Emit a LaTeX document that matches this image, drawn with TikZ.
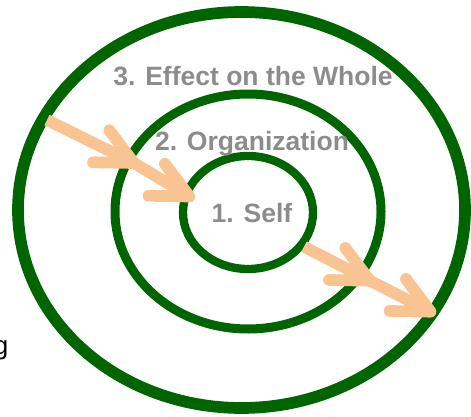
\documentclass[tikz,border=0pt]{standalone}
\usepackage{fontspec}
\setmainfont{Liberation Sans}
\usepackage{tikz}

\definecolor{vert}{HTML}{006400}
\definecolor{peche}{RGB}{250,196,146}
\definecolor{gris}{HTML}{8C8C8C}

\begin{document}
\begin{tikzpicture}[x=1pt,y=-1pt,
    anneau/.style={draw=vert},
    fleche/.style={draw=peche,line width=11.7pt,line cap=round,line join=round},
    tige/.style={draw=peche,line width=11.7pt,line cap=butt,line join=round},
    titre/.style={text=gris,font=\fontsize{26.5}{30}\selectfont\bfseries,inner sep=0pt,anchor=base}]
  \useasboundingbox (0,0) rectangle (471,417);

      \coordinate (C3) at (241.5,210);
      \coordinate (C2) at (248,211.5);
      \coordinate (C1) at (248,212.5);

      % FLECHE GAUCHE
      \coordinate (A1) at (47,120);
      \coordinate (A2) at (134,163);
      \coordinate (A3) at (189.5,196.5);

      % FLECHE DROITE
      \coordinate (B1) at (304,246.7);
      \coordinate (B2) at (370,280.7);
      \coordinate (B3) at (430.6,311.7);

      % ANNEAUX
      \draw[anneau,line width=11.7pt] (C3) ellipse (223.5 and 198);
      \draw[anneau,line width=9pt] (C2) ellipse (133 and 117.5);
      \draw[anneau,line width=8.3pt] (C1) ellipse (65 and 56.5);

      % TIGES
      \draw[tige] (A1) -- (A2) -- (A3);
      \draw[tige] (B1) -- (B2) -- (B3);

      % POINTES
      \draw[fleche] (A2) ++(233:41) -- (A2) -- ++(181:41);
      \draw[fleche] (A3) ++(233:41) -- (A3) -- ++(181:41);
      \draw[fleche] (B2) ++(233:41) -- (B2) -- ++(181:41);
      \draw[fleche] (B3) ++(233:41) -- (B3) -- ++(181:41);

      % TEXTES
      \node[titre] (whole) at (253,86) {3. Effect on the Whole};
      \node[titre] (orga) at (252,150) {2. Organization};
      \node[titre] (self) at (252,222) {1. Self};
      \node[inner sep=0pt,anchor=base east,font=\fontsize{26}{30}\selectfont] (g) at (8.5,354) {g};
\end{tikzpicture}
\end{document}
